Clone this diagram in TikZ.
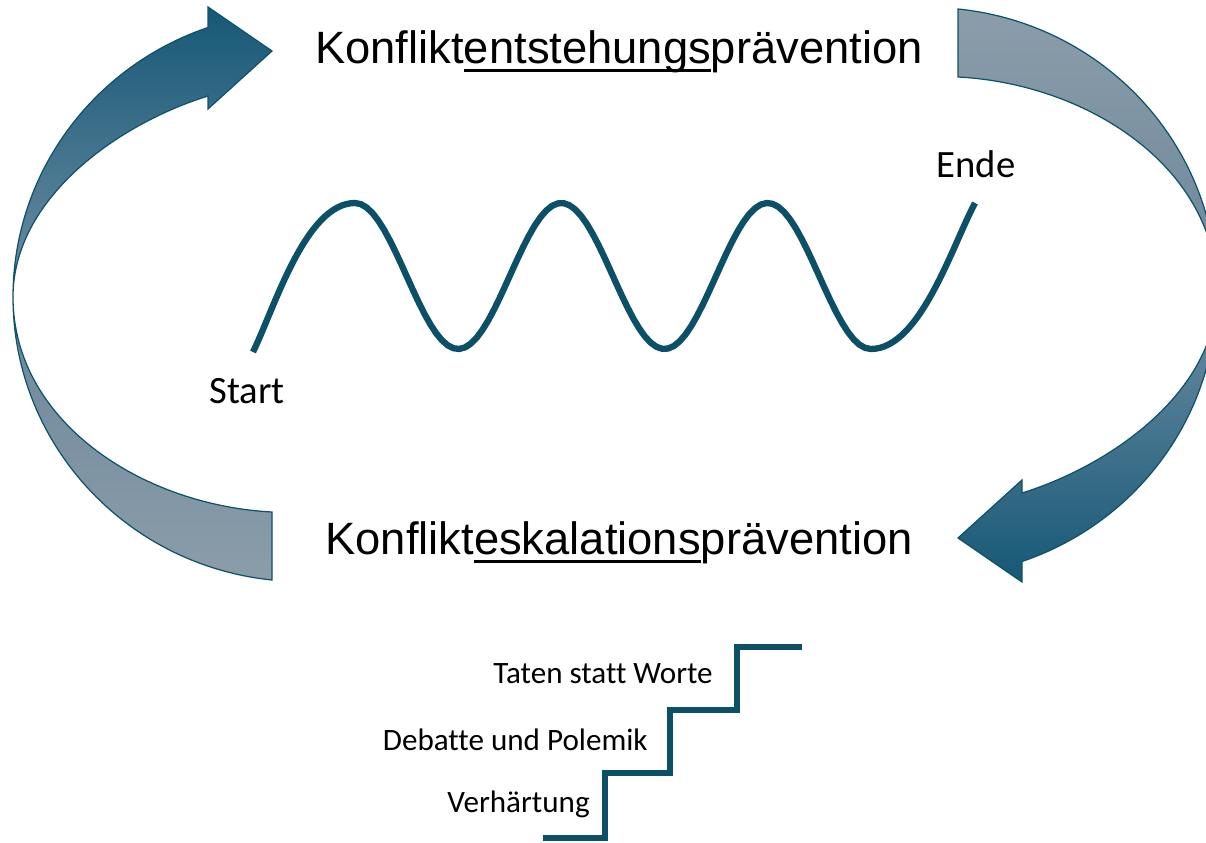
\documentclass[tikz,border=0pt]{standalone}
\usepackage{fontspec}
\setmainfont{Liberation Sans}
\newfontfamily\calibri[Ligatures=NoCommon]{Carlito}
\usepackage{xcolor}
\usetikzlibrary{positioning}

\definecolor{wavecol}{RGB}{12,80,104}
\definecolor{arrowdark}{RGB}{22,88,118}
\definecolor{arrowmid}{RGB}{112,142,164}
\definecolor{arrowgrey}{RGB}{106,134,154}
\definecolor{arrowlight}{RGB}{140,157,170}
\definecolor{arrowedge}{RGB}{14,82,106}

\newcommand{\ulword}[1]{\setbox0\hbox{#1}\rlap{\rule[-4.6pt]{\wd0}{1.9pt}}\box0}

\begin{document}
\begin{tikzpicture}[
    x=0.02cm, y=0.02cm,
    title/.style={font=\fontsize{25.8}{30}\selectfont, inner sep=0, anchor=base},
    label/.style={font=\calibri\fontsize{22}{26}\selectfont, inner sep=0, anchor=base},
    stairlabel/.style={font=\calibri\fontsize{17.7}{21}\selectfont, inner sep=0, anchor=base east},
    wave/.style={line width=3.6pt, draw=wavecol, line join=round},
    band/.style={draw=arrowedge, line width=0.7pt, line join=miter}
]
    \useasboundingbox (0,0) rectangle (1206,842);
    \clip (0,0) rectangle (1206,842);

    % Left arrow
    \coordinate (cross) at (13,545);
    \path [band, top color=arrowgrey, bottom color=arrowlight]
        (cross) .. controls (13,399) and (125,277) .. (272,262) -- (272,330)
        .. controls (140,337) and (13,422) .. cycle;
    \path [band, top color=arrowdark, bottom color=arrowmid]
        (208,746) .. controls (115,717) and (13,642) .. (cross)
        .. controls (13,667) and (91.5,775) .. (208,814.5)
        -- (208,835) -- (272,791) -- (208,733) -- cycle;

    % Right arrow (the left one turned round)
    \begin{scope}[rotate around={180:(615,547.5)}]
    \coordinate (rcross) at (13,545);
    \path [band, top color=arrowlight, bottom color=arrowgrey]
        (rcross) .. controls (13,399) and (125,277) .. (272,262) -- (272,330)
        .. controls (140,337) and (13,422) .. cycle;
    \path [band, top color=arrowmid, bottom color=arrowdark]
        (208,746) .. controls (115,717) and (13,642) .. (rcross)
        .. controls (13,667) and (91.5,775) .. (208,814.5)
        -- (208,835) -- (272,791) -- (208,733) -- cycle;
    \end{scope}

    % Titles
    \node [title] (prevent) at (619,778) {Konflikt\ulword{entstehungs}prävention};
    \node [title] (escalate) at (619,287) {Konflikt\ulword{eskalations}prävention};

    % Wave
    \draw [wave] (253,490) to[out=64,in=180,looseness=0.7] (355,639)
        -- plot[domain=355:871, samples=90] (\x, {566+73*cos(1.745*(\x-355))})
        to[out=0,in=242,looseness=0.7] (975,639);
    \node [label] (start) at (247,438) {Start};
    \node [label] (ende) at (976,664) {Ende};

    % Stairs
    \draw [wave, line join=miter] (543,4) -| (605,69) -| (670,132) -| (737,195) -- (802,195);
    \node [stairlabel] (deeds) at (713,159) {Taten statt Worte};
    \node [stairlabel] (debate) at (648,92) {Debatte und Polemik};
    \node [stairlabel] (harden) at (590,30) {Verhärtung};
\end{tikzpicture}
\end{document}
